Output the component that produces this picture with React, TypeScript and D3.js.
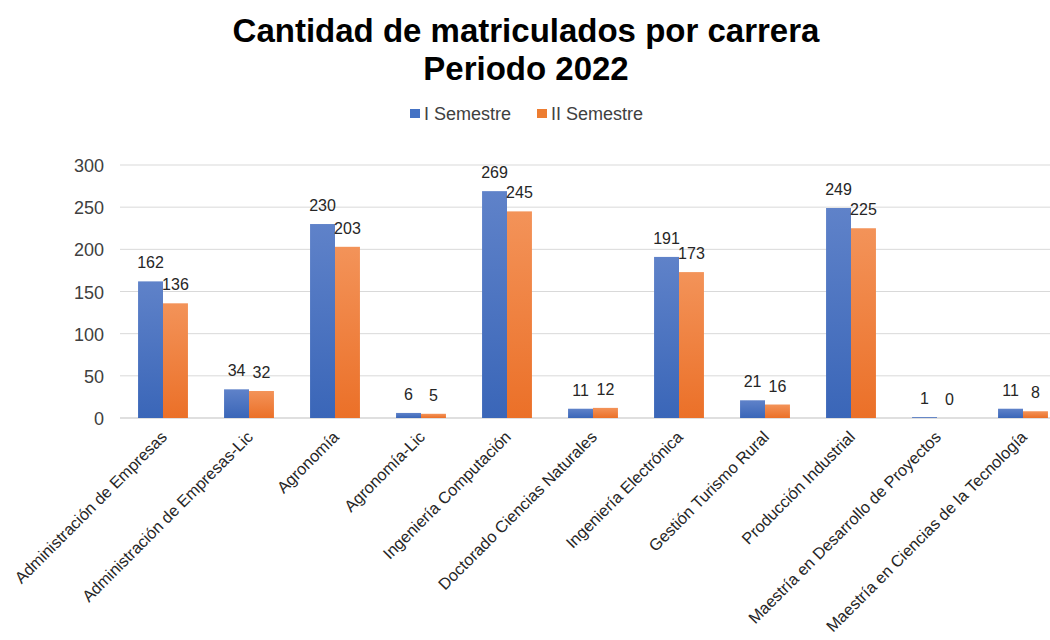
import React from "react";
import * as d3 from "d3";

const categories = [
  "Administración de Empresas",
  "Administración de Empresas-Lic",
  "Agronomía",
  "Agronomía-Lic",
  "Ingeniería Computación",
  "Doctorado Ciencias Naturales",
  "Ingeniería Electrónica",
  "Gestión Turismo Rural",
  "Producción Industrial",
  "Maestría en Desarrollo de Proyectos",
  "Maestría en Ciencias de la Tecnología",
];
const semestre1 = [162, 34, 230, 6, 269, 11, 191, 21, 249, 1, 11];
const semestre2 = [136, 32, 203, 5, 245, 12, 173, 16, 225, 0, 8];
const seriesNames = ["I Semestre", "II Semestre"];
const yTicks = [0, 50, 100, 150, 200, 250, 300];

const W = 1050;
const H = 640;
const left = 120;
const right = 1066;
const top = 165;
const bottom = 418;
const FONT = "'Liberation Sans', Arial, sans-serif";

export default function App() {
  const x0 = d3.scaleBand<string>().domain(categories).range([left, right]).paddingInner(0.42).paddingOuter(0.21);
  const x1 = d3.scaleBand<number>().domain([0, 1]).range([0, x0.bandwidth()]);
  const y = d3.scaleLinear().domain([0, 300]).range([bottom, top]);
  const series = [semestre1, semestre2];
  const fills = ["url(#gBlue)", "url(#gOrange)"];
  const legendColors = ["#4472C4", "#ED7D31"];
  const legendX = [410, 537];

  return (
    <svg width={W} height={H} style={{ position: "absolute", left: 0, top: 0, background: "#fff" }} fontFamily={FONT}>
      <defs>
        <linearGradient id="gBlue" x1="0" y1="0" x2="0" y2="1">
          <stop offset="0" stopColor="#5F82C9" />
          <stop offset="1" stopColor="#3A66B8" />
        </linearGradient>
        <linearGradient id="gOrange" x1="0" y1="0" x2="0" y2="1">
          <stop offset="0" stopColor="#F39359" />
          <stop offset="1" stopColor="#EB7028" />
        </linearGradient>
      </defs>
      <rect x={0} y={0} width={W} height={H} fill="#fff" />
      <text x={526} y={42} textAnchor="middle" fontSize={33} fontWeight="bold" fill="#000">
        Cantidad de matriculados por carrera
      </text>
      <text x={526} y={80} textAnchor="middle" fontSize={33} fontWeight="bold" fill="#000">
        Periodo 2022
      </text>
      {/* legend */}
      {seriesNames.map((n, i) => {
        const lx = legendX[i];
        return (
          <g key={n}>
            <rect x={lx} y={109} width={10} height={9} fill={legendColors[i]} />
            <text x={lx + 14} y={120} fontSize={18} fill="#404040">
              {n}
            </text>
          </g>
        );
      })}
      {/* gridlines */}
      {yTicks.map((t) => (
        <g key={t}>
          <line x1={left} x2={W} y1={y(t)} y2={y(t)} stroke={t === 0 ? "#bfbfbf" : "#d9d9d9"} strokeWidth={1} />
          <text x={104} y={y(t) + 7} textAnchor="end" fontSize={18} fill="#404040">
            {t}
          </text>
        </g>
      ))}
      {/* bars */}
      {categories.map((c, ci) => (
        <g key={c}>
          {series.map((s, si) => {
            const bx = (x0(c) as number) + (x1(si) as number);
            const bw = x1.bandwidth();
            const v = s[ci];
            const yt = y(v);
            return (
              <g key={si}>
                <rect x={bx} y={yt} width={bw} height={bottom - yt} fill={fills[si]} />
                <text x={bx + bw / 2} y={yt - 13} textAnchor="middle" fontSize={16} fill="#262626">
                  {v}
                </text>
              </g>
            );
          })}
          <text
            transform={`translate(${(x0(c) as number) + x0.bandwidth() / 2 + 5},${bottom + 20}) rotate(-45)`}
            textAnchor="end"
            fontSize={16.3}
            fill="#262626"
          >
            {c}
          </text>
        </g>
      ))}
    </svg>
  );
}
